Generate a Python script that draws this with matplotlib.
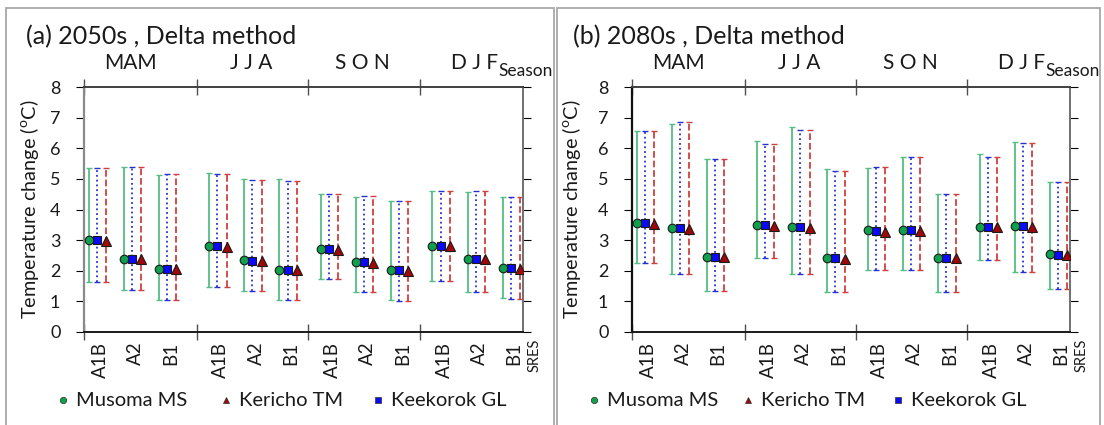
import matplotlib
matplotlib.use("Agg")
import matplotlib.pyplot as plt
import numpy as np
from matplotlib.lines import Line2D
from matplotlib.patches import Rectangle

plt.rcParams["font.family"] = ["Lato", "DejaVu Sans"]
plt.rcParams["mathtext.fontset"] = "custom"
plt.rcParams["mathtext.rm"] = "Lato"

seasons = ["MAM", "J J A", "S O N", "D J F"]
scenarios = ["A1B", "A2", "B1"]
stations = ["Musoma MS", "Keekorok GL", "Kericho TM"]

# 2050s, order per season: A1B, A2, B1
mean_2050 = {
    "Musoma MS":   [3.00, 2.40, 2.07, 2.81, 2.34, 2.03, 2.71, 2.29, 2.01, 2.82, 2.40, 2.10],
    "Keekorok GL": [2.99, 2.39, 2.07, 2.80, 2.33, 2.03, 2.71, 2.29, 2.01, 2.82, 2.40, 2.08],
    "Kericho TM":  [2.97, 2.37, 2.05, 2.78, 2.31, 2.01, 2.68, 2.26, 1.99, 2.80, 2.38, 2.06],
}
high_2050 = {
    "Musoma MS":   [5.36, 5.39, 5.12, 5.19, 5.01, 4.98, 4.50, 4.42, 4.28, 4.60, 4.57, 4.40],
    "Keekorok GL": [5.36, 5.40, 5.15, 5.17, 4.97, 4.94, 4.52, 4.43, 4.28, 4.62, 4.60, 4.40],
    "Kericho TM":  [5.36, 5.40, 5.15, 5.17, 4.97, 4.94, 4.52, 4.43, 4.28, 4.62, 4.60, 4.40],
}
low_2050 = {
    "Musoma MS":   [1.63, 1.38, 1.05, 1.46, 1.35, 1.05, 1.72, 1.30, 1.05, 1.68, 1.32, 1.10],
    "Keekorok GL": [1.63, 1.38, 1.05, 1.46, 1.35, 1.05, 1.72, 1.30, 1.02, 1.66, 1.32, 1.08],
    "Kericho TM":  [1.63, 1.38, 1.05, 1.46, 1.35, 1.05, 1.72, 1.30, 1.02, 1.66, 1.32, 1.08],
}

# 2080s
mean_2080 = {
    "Musoma MS":   [3.56, 3.40, 2.46, 3.51, 3.43, 2.43, 3.33, 3.33, 2.43, 3.44, 3.47, 2.54],
    "Keekorok GL": [3.55, 3.39, 2.46, 3.49, 3.42, 2.41, 3.29, 3.33, 2.43, 3.44, 3.47, 2.53],
    "Kericho TM":  [3.52, 3.37, 2.44, 3.47, 3.41, 2.39, 3.26, 3.29, 2.41, 3.42, 3.43, 2.51],
}
high_2080 = {
    "Musoma MS":   [6.55, 6.78, 5.64, 6.24, 6.69, 5.32, 5.36, 5.73, 4.52, 5.80, 6.22, 4.90],
    "Keekorok GL": [6.55, 6.86, 5.64, 6.13, 6.58, 5.26, 5.40, 5.73, 4.52, 5.73, 6.16, 4.90],
    "Kericho TM":  [6.55, 6.86, 5.64, 6.13, 6.58, 5.26, 5.40, 5.73, 4.52, 5.73, 6.16, 4.90],
}
low_2080 = {
    "Musoma MS":   [2.24, 1.88, 1.33, 2.41, 1.88, 1.30, 2.01, 2.04, 1.30, 2.35, 1.96, 1.41],
    "Keekorok GL": [2.24, 1.88, 1.33, 2.41, 1.88, 1.30, 2.01, 2.04, 1.30, 2.35, 1.96, 1.41],
    "Kericho TM":  [2.24, 1.88, 1.33, 2.41, 1.88, 1.30, 2.01, 2.04, 1.30, 2.35, 1.96, 1.41],
}

styles = {
    "Musoma MS":   dict(marker="o", mfc="#0fa04c", line="#55bd85", ls="-", off=0.0, ms=6.2),
    "Keekorok GL": dict(marker="s", mfc="#0a0af5", line="#2830d0", ls=":", off=0.23, ms=6.0),
    "Kericho TM":  dict(marker="^", mfc="#a00808", line="#d04040", ls="--", off=0.5, ms=6.8),
}

W, H = 1104, 425
fig = plt.figure(figsize=(W / 100, H / 100), dpi=100)

# horizontal start of each season group (category units)
group_x = np.array([0.0, 3.44, 6.61, 9.8])
xc = np.array([g + i for g in group_x for i in range(3)])
xmin, xmax = -0.13, 12.38
bounds = [xmin] + list(group_x[1:] - 0.35)


def px(x0, y0, x1, y1):
    return [x0 / W, 1 - y1 / H, (x1 - x0) / W, (y1 - y0) / H]


def draw(ax, mean, high, low, spine_left, ylab_x):
    for st in stations:
        s = styles[st]
        x = xc + s["off"]
        m = np.array(mean[st])
        yerr = [m - np.array(low[st]), np.array(high[st]) - m]
        eb = ax.errorbar(x, m, yerr=yerr, fmt="none", ecolor=s["line"],
                         elinewidth=1.3, capsize=2.0, capthick=1.0, zorder=2)
        eb[2][0].set_linestyle(s["ls"])
    for st in stations:
        s = styles[st]
        ax.plot(xc + s["off"], mean[st], ls="none", marker=s["marker"],
                ms=s["ms"], mfc=s["mfc"], mec="#1a1a1a", mew=0.8, zorder=3)

    ax.set_xlim(xmin, xmax)
    ax.set_ylim(0, 8)
    ax.set_yticks(range(9))
    ax.tick_params(axis="y", labelsize=13, length=6, pad=11, right=True,
                   width=0.8, labelcolor="#1a1a1a")
    for t in ax.yaxis.get_ticklines():
        t.set_color("#a0a0a0")

    ax.set_xticks(xc + 0.33)
    ax.set_xticklabels(scenarios * 4, rotation=90, fontsize=13.5,
                       color="#1a1a1a")
    ax.tick_params(axis="x", which="major", length=0, pad=7)
    ax.set_xticks(bounds, minor=True)
    ax.tick_params(axis="x", which="minor", length=12, direction="inout",
                   top=True, width=1.0, color="#505050")

    ax.spines["top"].set_color("#404040")
    ax.spines["right"].set_color("#707070")
    ax.spines["bottom"].set_color("#1a1a1a")
    ax.spines["left"].set_color(spine_left)
    for sp in ax.spines.values():
        sp.set_linewidth(1.4)
    ax.spines["left"].set_linewidth(1.6)

    for g, name in zip(group_x, seasons):
        ax.text(g + 1.2, 1.0 + (87 - 69) / 245, name,
                transform=ax.get_xaxis_transform(), ha="center",
                va="baseline", fontsize=15, color="#1a1a1a")
    ax.text(0.943, 1.0 + (87 - 76) / 245, "Season", transform=ax.transAxes,
            ha="left", va="baseline", fontsize=12.5, color="#1a1a1a")
    ax.text(1.026, -(339 - 332) / 245, "SRES", transform=ax.transAxes,
            ha="center", va="top", rotation=90, fontsize=10.5,
            color="#1a1a1a")
    ax.set_ylabel("Temperature change ($^{\\mathrm{o}}$C)", fontsize=14.3,
                  color="#1a1a1a")
    ax.yaxis.set_label_coords(ylab_x, 0.5)
    return ax


ax1 = fig.add_axes(px(84, 87, 523, 332))
draw(ax1, mean_2050, high_2050, low_2050, "#8a8a8a", -(84 - 41) / 439)
ax2 = fig.add_axes(px(632, 87, 1070, 332))
draw(ax2, mean_2080, high_2080, low_2080, "#101010", -(632 - 583) / 438)

fig.text(26 / W, 1 - 44 / H, "(a) 2050s , Delta method", fontsize=18,
         va="baseline", color="#1a1a1a")
fig.text(573 / W, 1 - 44 / H, "(b) 2080s , Delta method", fontsize=18,
         va="baseline", color="#1a1a1a")

# panel frames
for x0, x1 in [(6, 554), (557, 1100)]:
    fig.add_artist(Rectangle((x0 / W, -0.05), (x1 - x0) / W, 1.05 - 8 / H,
                             transform=fig.transFigure, fill=False,
                             ec="#a8a8a8", lw=1.3))

# legends below each panel
legend_keys = [
    ("Musoma MS", "o", "#0fa04c"),
    ("Kericho TM", "^", "#a00808"),
    ("Keekorok GL", "s", "#0a0af5"),
]
legend_x = [[63, 226, 378], [594, 748, 898]]
ly = 1 - 400 / H
for xs in legend_x:
    for (lab, mk, col), x in zip(legend_keys, xs):
        fig.add_artist(Line2D([x / W], [ly], transform=fig.transFigure,
                              ls="none", marker=mk, ms=4.6, mfc=col,
                              mec="#303030", mew=0.5))
        fig.text((x + 13) / W, ly, lab, fontsize=14.5, va="center",
                 color="#1a1a1a")

fig.savefig("out.png", dpi=100)
